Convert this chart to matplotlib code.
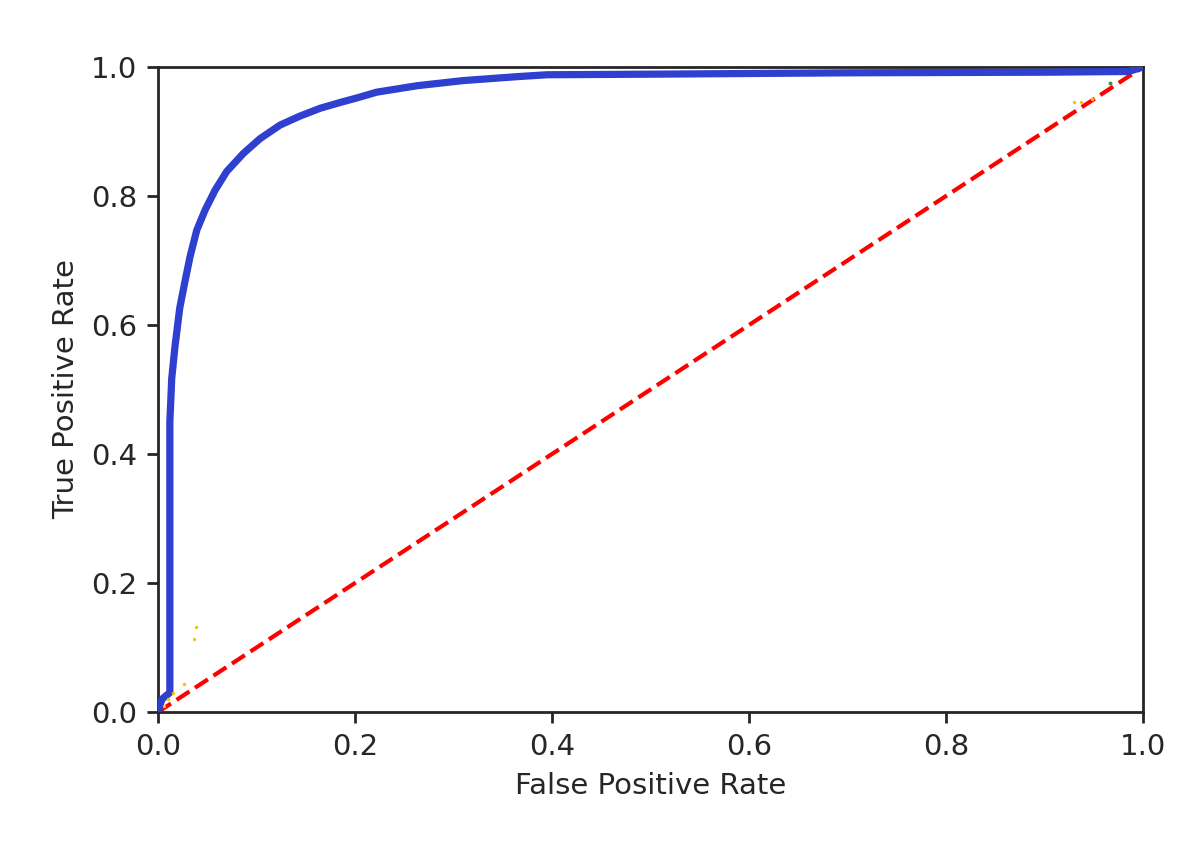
import matplotlib.pyplot as plt
import numpy as np

# ROC curve points
fpr = [0.0, 0.004, 0.012, 0.012, 0.0139, 0.017, 0.022, 0.027, 0.0325, 0.0393,
       0.0477, 0.0579, 0.0697, 0.0866, 0.1036, 0.1239, 0.1442, 0.1645, 0.1848,
       0.2017, 0.222, 0.263, 0.310, 0.364, 0.395, 0.51, 0.70, 0.906, 0.977,
       0.985, 1.0]
tpr = [0.0, 0.02, 0.03, 0.45, 0.517, 0.564, 0.626, 0.665, 0.706, 0.747,
       0.778, 0.809, 0.838, 0.866, 0.889, 0.910, 0.924, 0.936, 0.945,
       0.952, 0.961, 0.971, 0.979, 0.985, 0.988, 0.989, 0.991, 0.992, 0.993,
       0.993, 1.0]

# stray threshold marks
yel_x = [0.006, 0.010, 0.015, 0.026, 0.037, 0.039, 0.930, 0.937, 0.948]
yel_y = [0.010, 0.020, 0.030, 0.043, 0.113, 0.132, 0.945, 0.946, 0.950]
grn_x = [0.966]
grn_y = [0.975]

fig = plt.figure(figsize=(6, 4.215), dpi=200)
ax = fig.add_axes([0.1317, 0.1554, 0.8208, 0.7651])

ax.plot([0, 1], [0, 1], color='red', linestyle='--', linewidth=1.5, zorder=2)
ax.plot(fpr, tpr, color='#2f3fcf', linewidth=2.6, zorder=3, solid_joinstyle='round')
ax.scatter(yel_x, yel_y, s=1.5, color='#f5c400', zorder=4, linewidths=0)
ax.scatter(grn_x, grn_y, s=2, color='#2a9d3a', zorder=4, linewidths=0)

ax.set_xlim(0, 1)
ax.set_ylim(0, 1)
ax.set_xlabel('False Positive Rate', fontsize=10.5, color='#262626')
ax.set_ylabel('True Positive Rate', fontsize=10.5, color='#262626')
ax.tick_params(labelsize=10.5, width=1.0, length=4, colors='#262626')
for s in ax.spines.values():
    s.set_linewidth(1.0)
    s.set_color('#262626')

fig.savefig('out.png', dpi=200)
